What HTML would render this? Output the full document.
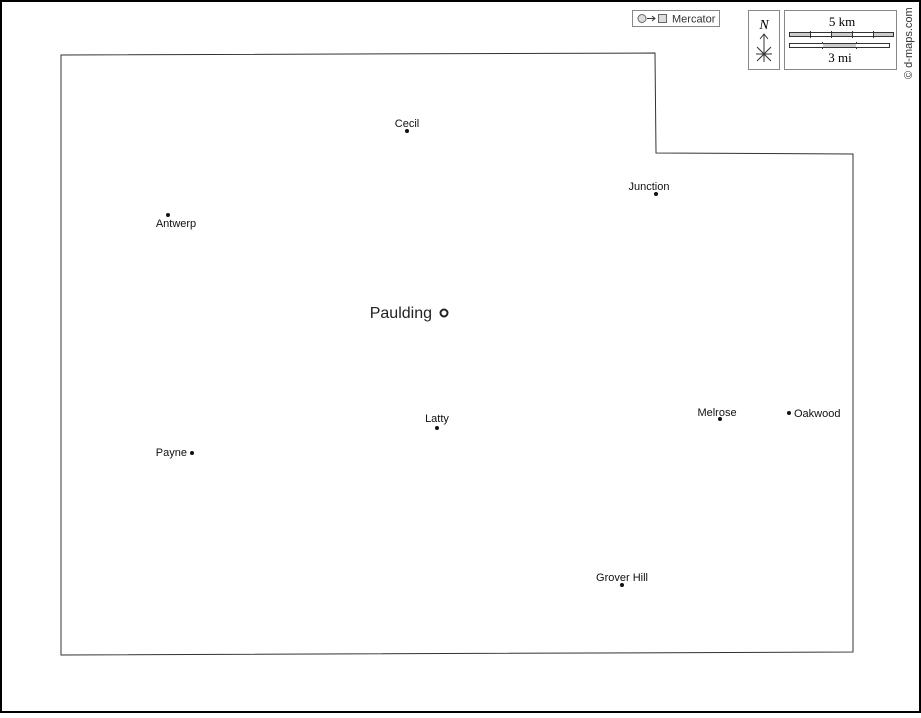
<!DOCTYPE html>
<html><head><style>
html,body{margin:0;padding:0;background:#fff}
body{width:921px;height:713px;overflow:hidden;font-family:"Liberation Sans",sans-serif}
</style></head><body>
<svg width="921" height="713" xmlns="http://www.w3.org/2000/svg" font-family="Liberation Sans, sans-serif">
<rect x="1" y="1" width="919" height="711" fill="#fff" stroke="#000" stroke-width="2"/>
<polygon points="61,55 655,53 656,153 853,154 853,652 61,655" fill="#fff" stroke="#333" stroke-width="1"/>
<!-- legend -->
<rect x="632.5" y="10.5" width="87" height="16" fill="#fff" stroke="#888"/>
<circle cx="642" cy="18.5" r="4" fill="#ddd" stroke="#666"/>
<line x1="647" y1="18.5" x2="655" y2="18.5" stroke="#333"/><path d="M652,16 L655,18.5 L652,21" fill="none" stroke="#333"/>
<rect x="658.5" y="14.5" width="8" height="8" fill="#ddd" stroke="#666"/>
<text x="672" y="22.5" font-size="11" fill="#333">Mercator</text>
<rect x="748.5" y="10.5" width="31" height="59" fill="#fff" stroke="#888"/>
<text x="764" y="29" font-size="14" font-style="italic" font-family="Liberation Serif, serif" text-anchor="middle">N</text>
<line x1="764" y1="34" x2="764" y2="62" stroke="#333"/>
<path d="M760,39 L764,34 L768,39" fill="none" stroke="#333"/>
<line x1="757" y1="47" x2="771" y2="61" stroke="#333"/><line x1="771" y1="47" x2="757" y2="61" stroke="#333"/>
<line x1="756" y1="54" x2="772" y2="54" stroke="#333"/>
<rect x="784.5" y="10.5" width="112" height="59" fill="#fff" stroke="#888"/>
<text x="842" y="26" font-size="13" font-family="Liberation Serif, serif" text-anchor="middle">5 km</text>
<rect x="789.5" y="32.5" width="104" height="4" fill="#fff" stroke="#333"/>
<rect x="790" y="33" width="20.5" height="3" fill="#ccc"/><rect x="831.5" y="33" width="20.5" height="3" fill="#ccc"/><rect x="873" y="33" width="20" height="3" fill="#ccc"/>
<g stroke="#333"><line x1="810.5" y1="31" x2="810.5" y2="38"/><line x1="831.5" y1="31" x2="831.5" y2="38"/><line x1="852.5" y1="31" x2="852.5" y2="38"/><line x1="873.5" y1="31" x2="873.5" y2="38"/>
<line x1="822.5" y1="42" x2="822.5" y2="49"/><line x1="856.5" y1="42" x2="856.5" y2="49"/></g>
<rect x="789.5" y="43.5" width="100" height="4" fill="#fff" stroke="#333"/>
<rect x="823" y="44" width="33" height="3" fill="#ccc"/>
<text x="840" y="62" font-size="13" font-family="Liberation Serif, serif" text-anchor="middle">3 mi</text>
<text transform="translate(912,79) rotate(-90)" font-size="11" fill="#333">© d-maps.com</text>
<!-- places -->
<g font-size="11" fill="#111">
<circle cx="407" cy="131" r="2"/><text x="407" y="127" text-anchor="middle">Cecil</text>
<circle cx="656" cy="194" r="2"/><text x="649" y="190" text-anchor="middle">Junction</text>
<circle cx="168" cy="215" r="2"/><text x="176" y="227" text-anchor="middle">Antwerp</text>
<circle cx="437" cy="428" r="2"/><text x="437" y="422" text-anchor="middle">Latty</text>
<circle cx="720" cy="419" r="2"/><text x="717" y="416" text-anchor="middle">Melrose</text>
<circle cx="789" cy="413" r="2"/><text x="794" y="417">Oakwood</text>
<circle cx="192" cy="453" r="2"/><text x="187" y="456" text-anchor="end">Payne</text>
<circle cx="622" cy="585" r="2"/><text x="622" y="581" text-anchor="middle">Grover Hill</text>
</g>
<circle cx="444" cy="313" r="3.5" fill="#fff" stroke="#222" stroke-width="2"/>
<text x="432" y="318" font-size="16" text-anchor="end" fill="#222">Paulding</text>
</svg>
</body></html>
